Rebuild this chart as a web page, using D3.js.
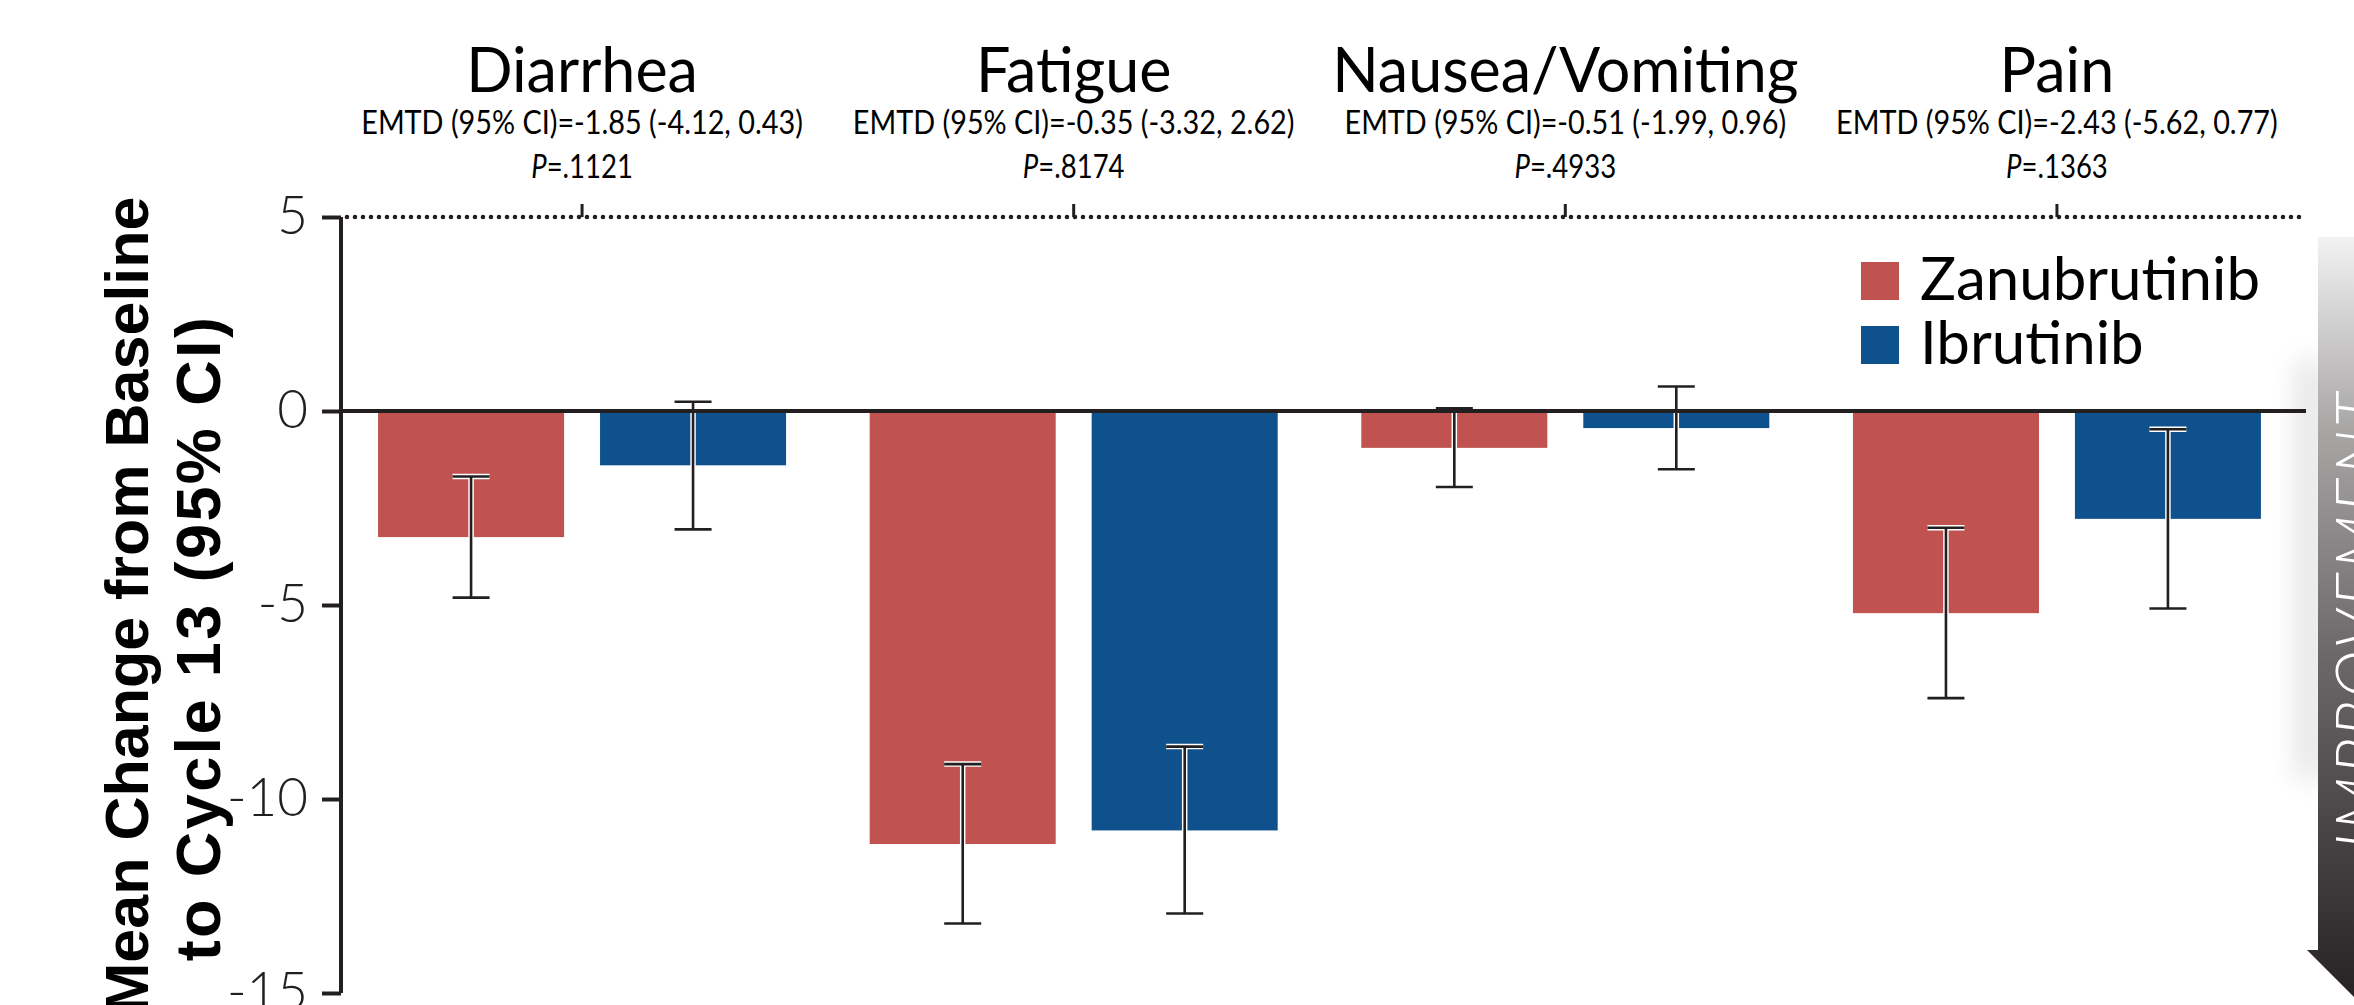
<!DOCTYPE html>
<html>
<head>
<meta charset="utf-8">
<script src="https://cdn.jsdelivr.net/npm/d3@7"></script>
<style>
  html, body { margin: 0; padding: 0; background: #ffffff; overflow: hidden; }
  svg { display: block; }
</style>
</head>
<body>
<script>
// Symptom domains and treatment arms
const categories = ["Diarrhea", "Fatigue", "Nausea/Vomiting", "Pain"];
const series = ["Zanubrutinib", "Ibrutinib"];

// Mean change from baseline to cycle 13 with 95% CI bounds
const zanuMean = [-3.25, -11.16, -0.95, -5.21];
const zanuLow  = [-4.81, -13.21, -1.96, -7.40];
const zanuHigh = [-1.69,  -9.10,  0.07, -3.01];
const ibruMean = [-1.40, -10.81, -0.44, -2.78];
const ibruLow  = [-3.05, -12.95, -1.50, -5.09];
const ibruHigh = [ 0.24,  -8.65,  0.63, -0.47];

// Between-arm comparison annotations
const emtdLabels = [
  "EMTD (95% CI)=-1.85 (-4.12, 0.43)",
  "EMTD (95% CI)=-0.35 (-3.32, 2.62)",
  "EMTD (95% CI)=-0.51 (-1.99, 0.96)",
  "EMTD (95% CI)=-2.43 (-5.62, 0.77)"
];
const pValues = [".1121", ".8174", ".4933", ".1363"];

const yTicks = [5, 0, -5, -10, -15];
const yTitleLines = ["Mean Change from Baseline", "to Cycle 13 (95% CI)"];
const arrowLabel = "IMPROVEMENT";

const colors = { "Zanubrutinib": "#c0534f", "Ibrutinib": "#0e518d" };
const ink = "#231f20";

const W = 2354, H = 1005;
const svg = d3.select("body").append("svg")
  .attr("width", W).attr("height", H)
  .attr("viewBox", `0 0 ${W} ${H}`);

const defs = svg.append("defs");

// Scales
const y = d3.scaleLinear().domain([5, -15]).range([217, 993]);
const x0 = d3.scaleBand().domain(categories).range([336.25, 2302.75]).padding(0);
const x1 = d3.scaleBand().domain(series).range([-204, 204]).paddingInner(0.162).paddingOuter(0);
const axisX = 341;

// Rows of bar data built from the arrays
const rows = [];
categories.forEach((c, i) => {
  rows.push({ cat: c, s: "Zanubrutinib", mean: zanuMean[i], lo: zanuLow[i], hi: zanuHigh[i] });
  rows.push({ cat: c, s: "Ibrutinib", mean: ibruMean[i], lo: ibruLow[i], hi: ibruHigh[i] });
});
const catCenter = c => x0(c) + x0.bandwidth() / 2;
const cx = d => catCenter(d.cat) + x1(d.s) + x1.bandwidth() / 2;

// Improvement arrow on the right edge
const grad = defs.append("linearGradient").attr("id", "arrowGrad")
  .attr("gradientUnits", "userSpaceOnUse")
  .attr("x1", 0).attr("y1", 237).attr("x2", 0).attr("y2", 1000);
grad.append("stop").attr("offset", 0).attr("stop-color", "#f2f2f2");
grad.append("stop").attr("offset", 0.25).attr("stop-color", "#a9a6a6");
grad.append("stop").attr("offset", 0.55).attr("stop-color", "#6c6768");
grad.append("stop").attr("offset", 1).attr("stop-color", "#262223");

const blur = defs.append("filter").attr("id", "soft").attr("x", "-100%").attr("width", "300%");
blur.append("feGaussianBlur").attr("stdDeviation", 14);

const arrowPath = "M2318,237 L2402,237 L2402,950 L2413,950 L2360,1003 L2307,950 L2318,950 Z";
svg.append("rect")
  .attr("x", 2296).attr("y", 360).attr("width", 30).attr("height", 420)
  .attr("fill", "#000").attr("opacity", 0.10)
  .attr("filter", "url(#soft)");
svg.append("path").attr("d", arrowPath).attr("fill", "url(#arrowGrad)");
svg.append("text")
  .attr("transform", "translate(2331,620) rotate(-90)")
  .attr("text-anchor", "middle")
  .attr("dominant-baseline", "hanging")
  .attr("font-family", "Lato, 'Open Sans', sans-serif")
  .attr("font-weight", 300)
  .attr("font-style", "italic")
  .attr("font-size", 64)
  .attr("letter-spacing", 3)
  .attr("fill", "#ffffff")
  .text(arrowLabel);

// Dotted reference line at the top of the scale
svg.append("line")
  .attr("x1", axisX + 6).attr("x2", 2306)
  .attr("y1", y(5)).attr("y2", y(5))
  .attr("stroke", ink).attr("stroke-width", 4.6)
  .attr("stroke-linecap", "round")
  .attr("stroke-dasharray", "0 8");

// Category ticks on the dotted line
svg.append("g").selectAll("line").data(categories).join("line")
  .attr("x1", catCenter).attr("x2", catCenter)
  .attr("y1", y(5) - 13).attr("y2", y(5))
  .attr("stroke", ink).attr("stroke-width", 3);

// Category headings and statistics
const head = svg.append("g").attr("font-family", "Lato, 'Open Sans', sans-serif").attr("fill", "#000");
head.selectAll("text.cat").data(categories).join("text")
  .attr("class", "cat")
  .attr("x", catCenter)
  .attr("y", 92)
  .attr("text-anchor", "middle")
  .attr("font-size", 61)
  .text(d => d);
head.selectAll("text.emtd").data(categories).join("text")
  .attr("class", "emtd")
  .attr("transform", d => `translate(${catCenter(d)},134) scale(0.9,1)`)
  .attr("text-anchor", "middle")
  .attr("font-size", 32)
  .text((d, i) => emtdLabels[i]);
const pText = head.selectAll("text.p").data(categories).join("text")
  .attr("class", "p")
  .attr("transform", d => `translate(${catCenter(d)},178) scale(0.86,1)`)
  .attr("text-anchor", "middle")
  .attr("font-size", 32);
pText.append("tspan").attr("font-style", "italic").text("P");
pText.append("tspan").text((d, i) => "=" + pValues[i]);

// Bars
svg.append("g").selectAll("rect").data(rows).join("rect")
  .attr("x", d => catCenter(d.cat) + x1(d.s))
  .attr("width", x1.bandwidth())
  .attr("y", d => y(Math.max(0, d.mean)))
  .attr("height", d => Math.abs(y(d.mean) - y(0)))
  .attr("fill", d => colors[d.s]);

// Error bars: light casing under a dark stroke
const capHalf = 18.5;
const eb = svg.append("g");
["#ffffff", ink].forEach((col, k) => {
  const sw = k === 0 ? 5.5 : 2.6;
  const g = eb.append("g").attr("stroke", col).attr("stroke-width", sw).attr("fill", "none");
  g.selectAll("line.stem").data(rows).join("line").attr("class", "stem")
    .attr("x1", cx).attr("x2", cx)
    .attr("y1", d => y(d.hi)).attr("y2", d => y(d.lo));
  g.selectAll("line.top").data(rows).join("line").attr("class", "top")
    .attr("x1", d => cx(d) - capHalf).attr("x2", d => cx(d) + capHalf)
    .attr("y1", d => y(d.hi)).attr("y2", d => y(d.hi));
  g.selectAll("line.bot").data(rows).join("line").attr("class", "bot")
    .attr("x1", d => cx(d) - capHalf).attr("x2", d => cx(d) + capHalf)
    .attr("y1", d => y(d.lo)).attr("y2", d => y(d.lo));
});

// Zero baseline
svg.append("line")
  .attr("x1", axisX).attr("x2", 2306)
  .attr("y1", y(0)).attr("y2", y(0))
  .attr("stroke", ink).attr("stroke-width", 4);

// Y axis
const yAxis = d3.axisLeft(y).tickValues(yTicks).tickSize(19).tickPadding(14)
  .tickFormat(d3.format("d"));
const gy = svg.append("g").attr("transform", `translate(${axisX},0)`).call(yAxis);
gy.select(".domain").attr("stroke", ink).attr("stroke-width", 4)
  .attr("d", `M0,${y(5)}V${y(-15)}`);
gy.selectAll(".tick line").attr("stroke", ink).attr("stroke-width", 4);
gy.selectAll(".tick text")
  .attr("font-family", "Lato, 'Open Sans', sans-serif")
  .attr("font-weight", 300)
  .attr("font-size", 53)
  .attr("fill", ink)
  .text(d => d < 0 ? "-" + Math.abs(d) : d);

// Y axis title
const yTitle = svg.append("text")
  .attr("transform", "rotate(-90)")
  .attr("text-anchor", "middle")
  .attr("font-family", "'Liberation Sans', Arial, sans-serif")
  .attr("font-weight", 700)
  .attr("fill", "#000");
yTitle.append("tspan").attr("x", -605).attr("y", 148).attr("font-size", 61).text(yTitleLines[0]);
yTitle.append("tspan").attr("x", -638).attr("y", 220).attr("font-size", 63)
  .attr("letter-spacing", 2.4).text(yTitleLines[1]);

// Legend
const legend = svg.append("g").attr("transform", "translate(1861,262)");
const li = legend.selectAll("g").data(series).join("g")
  .attr("transform", (d, i) => `translate(0,${i * 64})`);
li.append("rect").attr("width", 38).attr("height", 38).attr("fill", d => colors[d]);
li.append("text")
  .attr("x", 59).attr("y", 38)
  .attr("font-family", "Lato, 'Open Sans', sans-serif")
  .attr("font-size", 60)
  .attr("fill", "#000")
  .text(d => d);
</script>
</body>
</html>
